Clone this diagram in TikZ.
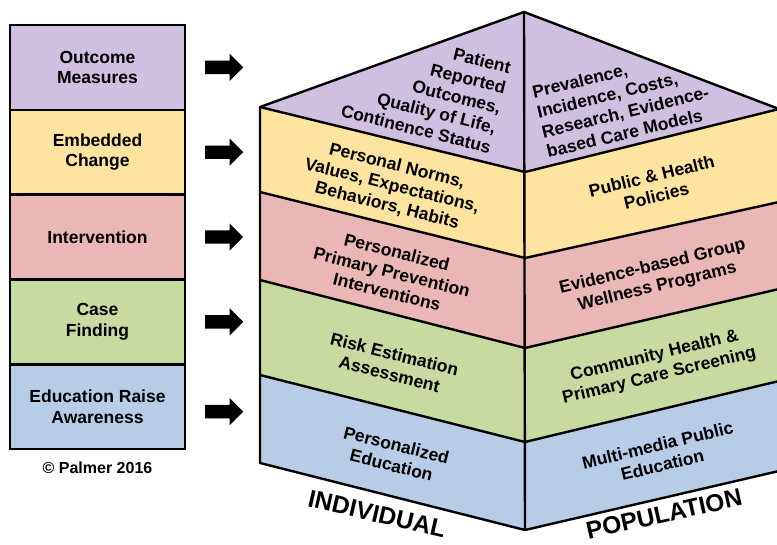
\documentclass[tikz,border=0pt]{standalone}
\usepackage{fontspec}
\setmainfont{Liberation Sans}
\usetikzlibrary{shapes.arrows, positioning}
\definecolor{outcomepurple}{RGB}{206,192,222}
\definecolor{changeyellow}{RGB}{252,228,160}
\definecolor{interpink}{RGB}{235,182,182}
\definecolor{casegreen}{RGB}{200,218,160}
\definecolor{edublue}{RGB}{184,204,230}

\begin{document}
\begin{tikzpicture}[x=1pt, y=-1pt,
  level/.style={rectangle, draw=black, line width=2.6pt, outer sep=0pt,
                minimum width=175pt, minimum height=84.8pt, inner sep=0pt,
                align=center, font=\fontsize{17.5}{20.5}\selectfont\bfseries},
  bigarrow/.style={single arrow, fill=black, minimum height=38pt,
                   inner sep=6.5pt, single arrow head extend=7pt},
  facetext/.style={inner sep=0pt, align=center,
                   font=\fontsize{17.5}{20.5}\selectfont\bfseries},
  side/.style={inner sep=0pt, font=\fontsize{24.5}{28}\selectfont\bfseries},
  edge/.style={line width=2.4pt, line join=round}
]
  \useasboundingbox (0,0) rectangle (777,544);

  % stages on the left
  \node[level, fill=outcomepurple] (outcome) at (97.5,67.4) {Outcome\\Measures};
  \node[level, fill=changeyellow, below=0pt of outcome] (embedded) {Embedded\\Change};
  \node[level, fill=interpink, below=0pt of embedded] (intervention) {Intervention};
  \node[level, fill=casegreen, below=0pt of intervention] (casefind) {Case\\Finding};
  \node[level, fill=edublue, below=0pt of casefind] (education) {Education Raise\\Awareness};
  \node[inner sep=0pt, font=\fontsize{16}{19}\selectfont\bfseries,
        below=13pt of education] (palmer) {\textcopyright{} Palmer 2016};

  \node[bigarrow, right=20pt of outcome] (arr1) {};
  \node[bigarrow, right=20pt of embedded] (arr2) {};
  \node[bigarrow, right=20pt of intervention] (arr3) {};
  \node[bigarrow, right=20pt of casefind] (arr4) {};
  \node[bigarrow, right=20pt of education, yshift=-5pt] (arr5) {};

  % the house
  \coordinate (apex) at (524,12);
  \coordinate (l0) at (260,107);
  \coordinate (l1) at (260,192);
  \coordinate (l2) at (260,280);
  \coordinate (l3) at (260,375);
  \coordinate (l4) at (260,463);
  \coordinate (c0) at (525,172);
  \coordinate (c1) at (525,258);
  \coordinate (c2) at (525,348);
  \coordinate (c3) at (525,442);
  \coordinate (c4) at (525,530);
  \coordinate (r0) at (779,109);
  \coordinate (r1) at (779,202);
  \coordinate (r2) at (779,289);
  \coordinate (r3) at (779,381);
  \coordinate (r4) at (779,471);

  \fill[outcomepurple] (l0) -- (apex) -- (r0) -- (c0) -- cycle;
  \fill[changeyellow] (l0) -- (c0) -- (r0) -- (r1) -- (c1) -- (l1) -- cycle;
  \fill[interpink] (l1) -- (c1) -- (r1) -- (r2) -- (c2) -- (l2) -- cycle;
  \fill[casegreen] (l2) -- (c2) -- (r2) -- (r3) -- (c3) -- (l3) -- cycle;
  \fill[edublue] (l3) -- (c3) -- (r3) -- (r4) -- (c4) -- (l4) -- cycle;

  \draw[edge] (l0) -- (apex) -- (r0) -- (r4) -- (c4) -- (l4) -- cycle;
  \draw[edge] (apex) -- (c4);
  \draw[edge] (l0) -- (c0) -- (r0);
  \draw[edge] (l1) -- (c1) -- (r1);
  \draw[edge] (l2) -- (c2) -- (r2);
  \draw[edge] (l3) -- (c3) -- (r3);

  % individual side
  \node[facetext, align=right, rotate=-14] (patient) at (426,89)
    {Patient\\Reported\\Outcomes,\\Quality of Life,\\Continence Status};
  \node[facetext, rotate=-14] (norms) at (392,186)
    {Personal Norms,\\Values, Expectations,\\Behaviors, Habits};
  \node[facetext, rotate=-14] (primary) at (392,272)
    {Personalized\\Primary Prevention\\Interventions};
  \node[facetext, rotate=-14] (risk) at (392,364) {Risk Estimation\\Assessment};
  \node[facetext, rotate=-14] (persedu) at (394,455) {Personalized\\Education};

  % population side
  \node[facetext, align=left, rotate=13.5] (prevalence) at (623,102)
    {Prevalence,\\Incidence, Costs,\\Research, Evidence-\\based Care Models};
  \node[facetext, rotate=13.5] (policies) at (654,186) {Public \& Health\\Policies};
  \node[facetext, rotate=13.5] (wellness) at (655,277)
    {Evidence-based Group\\Wellness Programs};
  \node[facetext, rotate=13.5] (community) at (657,366)
    {Community Health \&\\Primary Care Screening};
  \node[facetext, rotate=13.5] (mediaedu) at (660,455) {Multi-media Public\\Education};

  \node[side, rotate=-13] (individual) at (377,514) {INDIVIDUAL};
  \node[side, rotate=12.5] (population) at (664,514) {POPULATION};
\end{tikzpicture}
\end{document}
